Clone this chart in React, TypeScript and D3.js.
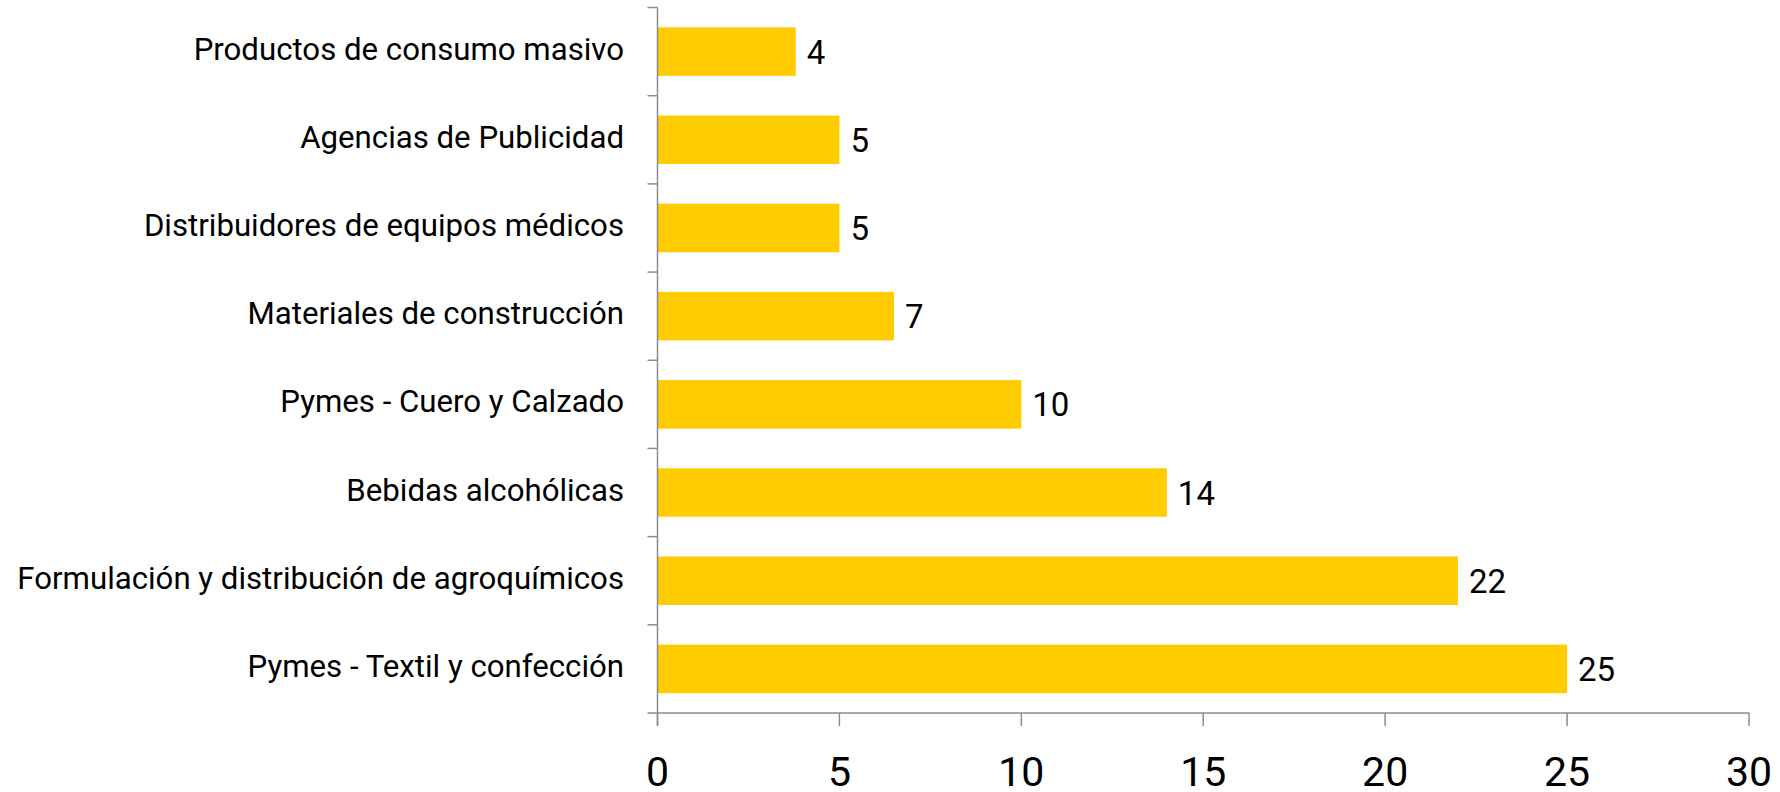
import React from "react";
import * as d3 from "d3";

const categories: string[] = [
  "Productos de consumo masivo",
  "Agencias de Publicidad",
  "Distribuidores de equipos médicos",
  "Materiales de construcción",
  "Pymes - Cuero y Calzado",
  "Bebidas alcohólicas",
  "Formulación y distribución de agroquímicos",
  "Pymes - Textil y confección",
];
const values: number[] = [3.8, 5, 5, 6.5, 10, 14, 22, 25];
const valueLabels: string[] = ["4", "5", "5", "7", "10", "14", "22", "25"];
const xTicks: number[] = [0, 5, 10, 15, 20, 25, 30];

const W = 1780;
const H = 792;
const left = 657.5;
const right = 1749;
const top = 7.5;
const bottom = 713;
const FONT = "Roboto, 'Liberation Sans', sans-serif";
const AXIS = "#8c8c8c";

export default function App() {
  const x = d3.scaleLinear().domain([0, 30]).range([left, right]);
  const y = d3
    .scaleBand<string>()
    .domain(categories)
    .range([top, bottom])
    .paddingInner(0.45)
    .paddingOuter(0.225);
  const step = (bottom - top) / categories.length;
  const boundaries = d3.range(categories.length + 1).map((i) => top + i * step);

  return (
    <svg
      width={W}
      height={H}
      style={{ position: "absolute", left: 0, top: 0, background: "#fff" }}
      fontFamily={FONT}
    >
      {categories.map((c, i) => {
        const yy = y(c) as number;
        const bw = y.bandwidth();
        const cy = yy + bw / 2;
        return (
          <g key={c}>
            <rect x={x(0)} y={yy} width={x(values[i]) - x(0)} height={bw} fill="#FFCC00" />
            <text x={x(values[i]) + 11} y={cy + 12} fontSize={33} fill="#000">
              {valueLabels[i]}
            </text>
            <text x={624} y={cy + 8} fontSize={31.2} textAnchor="end" fill="#000">
              {c}
            </text>
          </g>
        );
      })}
      {/* y axis */}
      <line x1={left} x2={left} y1={top} y2={bottom + 13} stroke={AXIS} strokeWidth={1.5} />
      {boundaries.map((b, i) => (
        <line key={i} x1={left - 10} x2={left} y1={b} y2={b} stroke={AXIS} strokeWidth={1.5} />
      ))}
      {/* x axis */}
      <line x1={left} x2={right} y1={bottom} y2={bottom} stroke={AXIS} strokeWidth={1.5} />
      {xTicks.map((t) => (
        <g key={t}>
          <line x1={x(t)} x2={x(t)} y1={bottom} y2={bottom + 13} stroke={AXIS} strokeWidth={1.5} />
          <text x={x(t)} y={786} fontSize={41} textAnchor="middle" fill="#000">
            {t}
          </text>
        </g>
      ))}
    </svg>
  );
}
